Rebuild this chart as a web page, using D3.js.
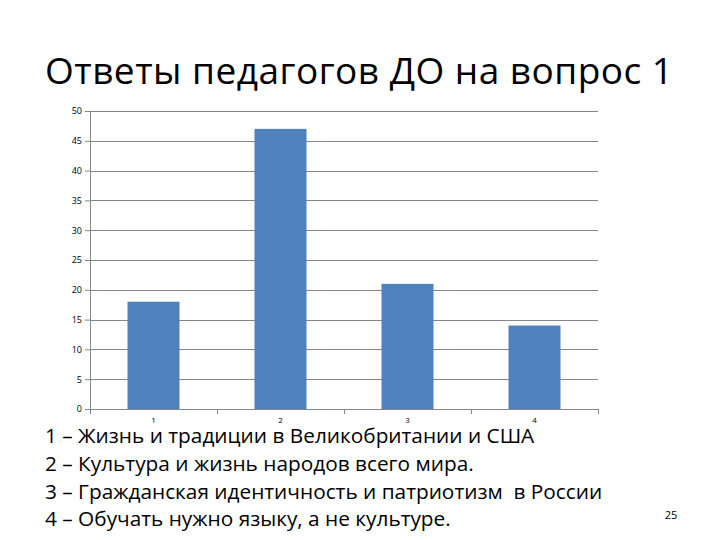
<!DOCTYPE html>
<html>
<head>
<meta charset="utf-8">
<script src="https://cdn.jsdelivr.net/npm/d3@7"></script>
<style>
  body { margin: 0; background: #fff; }
  text { font-family: "Open Sans", "Noto Sans", sans-serif; }
</style>
</head>
<body>
<div id="wrapper"></div>
<script>
const categories = ["1", "2", "3", "4"]
const values = [18, 47, 21, 14]
const yTicks = [0, 5, 10, 15, 20, 25, 30, 35, 40, 45, 50]
const title = "Ответы педагогов ДО на вопрос 1"
const legendLines = [
  "1 – Жизнь и традиции в Великобритании и США",
  "2 – Культура и жизнь народов всего мира.",
  "3 – Гражданская идентичность и патриотизм  в России",
  "4 – Обучать нужно языку, а не культуре."
]
const pageNumber = "25"

const width = 720
const height = 540
let dimensions = {
  margin: { top: 111, left: 90 },
  boundedWidth: 508,
  boundedHeight: 298,
}

const svg = d3.select("#wrapper")
  .append("svg")
    .attr("width", width)
    .attr("height", height)

svg.append("text")
  .attr("x", 45)
  .attr("y", 84)
  .attr("font-size", "37px")
  .attr("fill", "#000")
  .attr("textLength", 628)
  .attr("lengthAdjust", "spacing")
  .text(title)

const bounds = svg.append("g")
  .attr("transform", `translate(${dimensions.margin.left},${dimensions.margin.top})`)

const xScaler = d3.scaleBand()
  .domain(categories)
  .range([0, dimensions.boundedWidth])
  .paddingInner(0)
  .paddingOuter(0)

const yScaler = d3.scaleLinear()
  .domain([0, 50])
  .range([dimensions.boundedHeight, 0])

// gridlines
bounds.append("g")
  .selectAll("line")
  .data(yTicks.filter(d => d > 0))
  .join("line")
    .attr("x1", 0)
    .attr("x2", dimensions.boundedWidth)
    .attr("y1", d => Math.round(yScaler(d)) + 0.5)
    .attr("y2", d => Math.round(yScaler(d)) + 0.5)
    .attr("stroke", "#868686")

// bars
const barW = 52
bounds.append("g")
  .selectAll("rect")
  .data(values)
  .join("rect")
    .attr("x", (d, i) => xScaler(categories[i]) + (xScaler.bandwidth() - barW) / 2)
    .attr("y", d => yScaler(d))
    .attr("width", barW)
    .attr("height", d => dimensions.boundedHeight - yScaler(d))
    .attr("fill", "#4F81BD")

// y axis
const yAxisGen = d3.axisLeft(yScaler)
  .tickValues(yTicks)
  .tickSize(5)
  .tickPadding(3)
const yAxis = bounds.append("g").call(yAxisGen)
yAxis.select(".domain").attr("stroke", "#868686").attr("d", `M0.5,0V${dimensions.boundedHeight}`)
yAxis.selectAll(".tick line").attr("stroke", "#868686")
yAxis.selectAll(".tick text")
  .attr("font-size", "9px")
  .attr("font-family", "Liberation Sans, sans-serif")
  .attr("fill", "#000")

// x axis
const xAxisGen = d3.axisBottom(xScaler)
  .tickSize(0)
  .tickPadding(8)
const xAxis = bounds.append("g")
  .attr("transform", `translate(0,${dimensions.boundedHeight})`)
  .call(xAxisGen)
xAxis.select(".domain").attr("stroke", "#868686").attr("d", `M0,0.5H${dimensions.boundedWidth}`)
xAxis.selectAll(".tick text")
  .attr("font-size", "8px")
  .attr("font-family", "Liberation Sans, sans-serif")
  .attr("fill", "#000")
xAxis.append("g")
  .selectAll("line")
  .data(d3.range(categories.length + 1))
  .join("line")
    .attr("x1", i => Math.round(i * xScaler.step()) + 0.5)
    .attr("x2", i => Math.round(i * xScaler.step()) + 0.5)
    .attr("y1", 0)
    .attr("y2", 5)
    .attr("stroke", "#868686")

// legend text
svg.append("g")
  .selectAll("text")
  .data(legendLines)
  .join("text")
    .attr("x", 45)
    .attr("y", (d, i) => 443 + i * 27.8)
    .attr("font-size", "20.8px")
    .attr("fill", "#000")
    .attr("xml:space", "preserve")
    .style("white-space", "pre")
    .text(d => d)

svg.append("text")
  .attr("x", 671)
  .attr("y", 519)
  .attr("text-anchor", "middle")
  .attr("font-size", "11px")
  .attr("fill", "#000")
  .text(pageNumber)
</script>
</body>
</html>
